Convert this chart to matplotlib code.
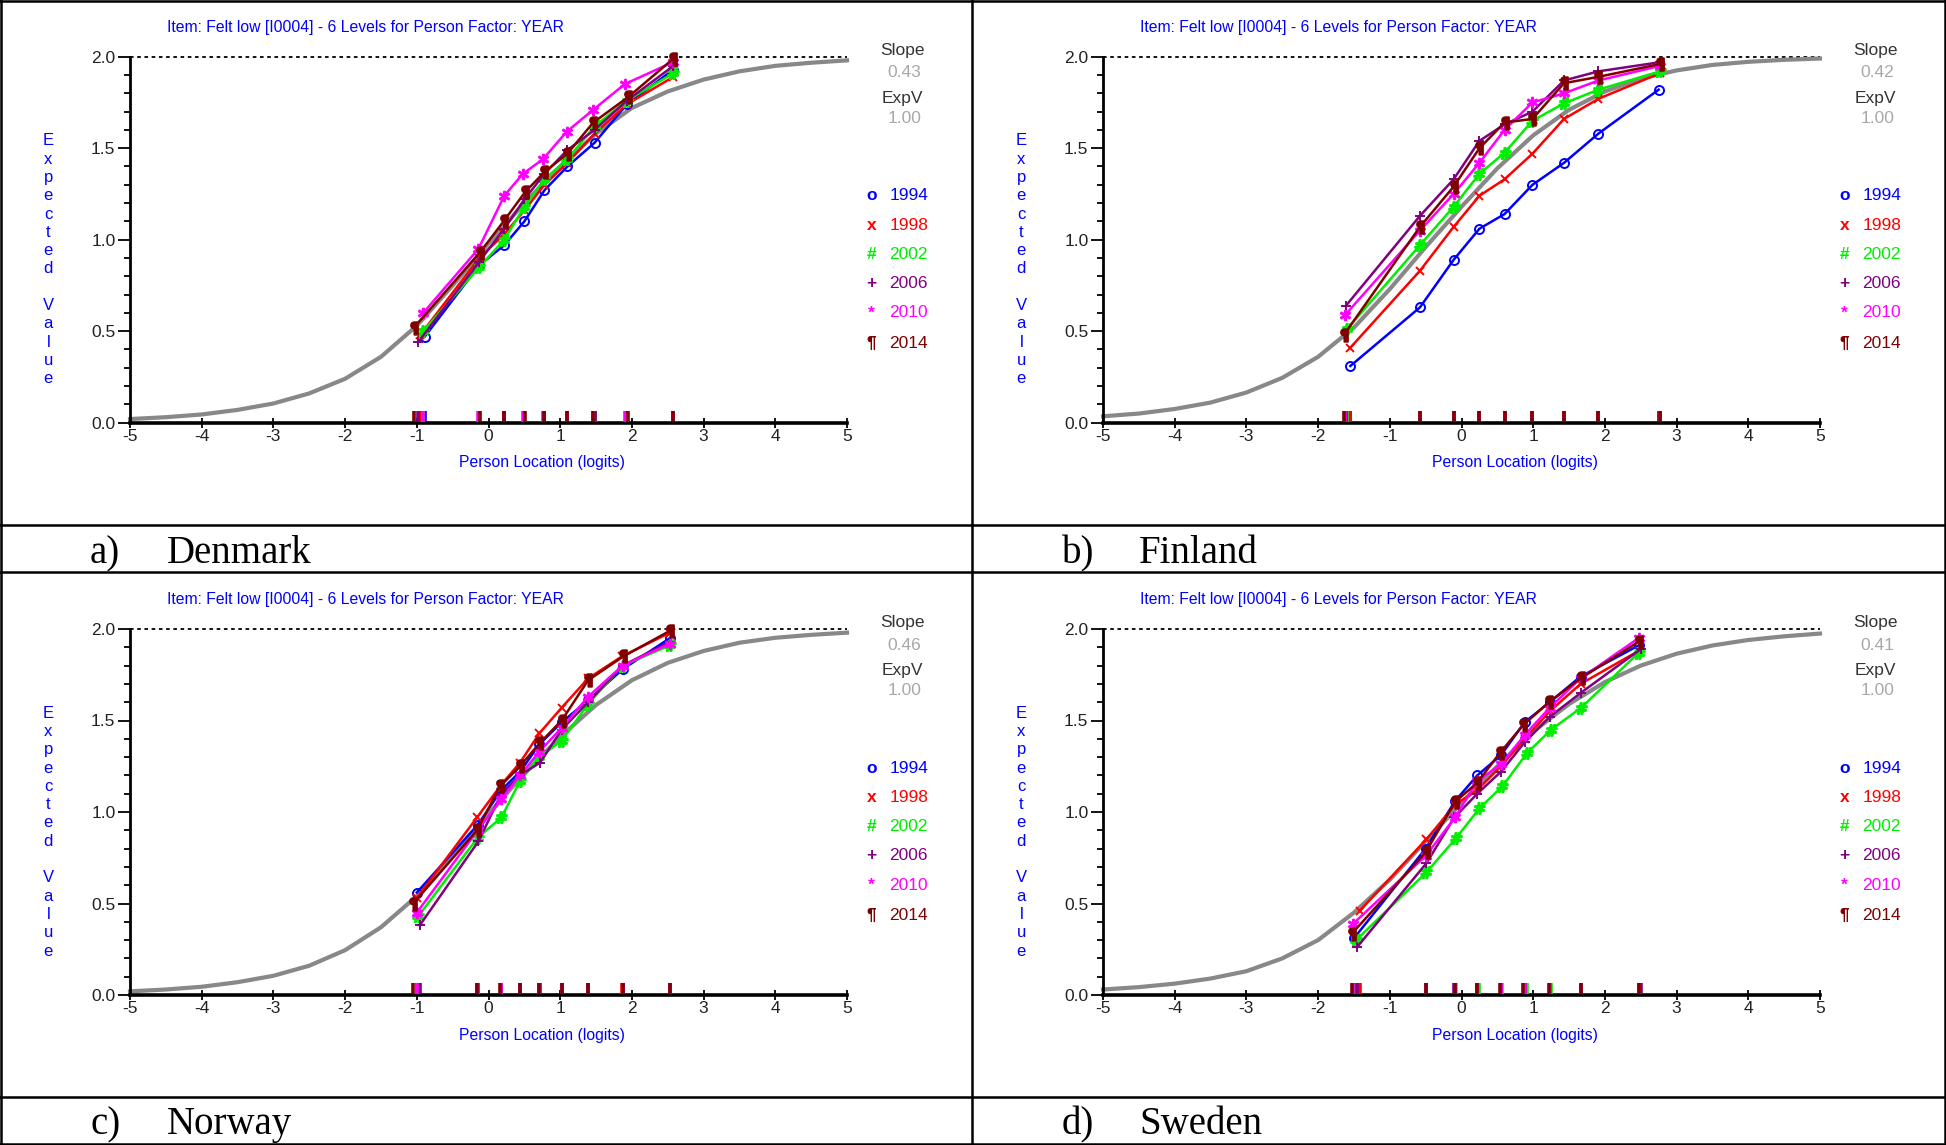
import matplotlib
matplotlib.use('Agg')
import matplotlib.pyplot as plt
from matplotlib.lines import Line2D
from matplotlib.ticker import MultipleLocator, FormatStrFormatter

NARROW = ['Liberation Sans Narrow', 'Liberation Sans', 'DejaVu Sans']
SERIF = ['Liberation Serif', 'DejaVu Serif']
plt.rcParams['font.family'] = NARROW
plt.rcParams['axes.unicode_minus'] = False

W, H = 1946, 1145

years = [1994, 1998, 2002, 2006, 2010, 2014]
year_colors = ['#0000ff', '#ff0000', '#00ee00', '#800080', '#ff00ff', '#800000']
legend_glyphs = ['o', 'x', '#', '+', '*', '¶']
markers = ['o', 'x', '$\\#$', '+', '$*$', '$¶$']
marker_sizes = [6.5, 5.5, 8, 7, 7, 9]

# expected-value curve, every half logit
curve_x = [-5.0, -4.5, -4.0, -3.5, -3.0, -2.5, -2.0, -1.5, -1.0, -0.5, 0.0,
           0.5, 1.0, 1.5, 2.0, 2.5, 3.0, 3.5, 4.0, 4.5, 5.0]

# Denmark
dk_x = {
    1994: [-0.89, -0.13, 0.22, 0.50, 0.78, 1.10, 1.48, 1.93, 2.58],
    1998: [-0.95, -0.13, 0.22, 0.50, 0.78, 1.10, 1.48, 1.93, 2.58],
    2002: [-0.91, -0.13, 0.22, 0.50, 0.78, 1.10, 1.48, 1.93, 2.58],
    2006: [-0.98, -0.13, 0.22, 0.50, 0.78, 1.10, 1.48, 1.93, 2.58],
    2010: [-0.91, -0.14, 0.22, 0.48, 0.76, 1.09, 1.46, 1.90, 2.57],
    2014: [-1.04, -0.12, 0.21, 0.51, 0.78, 1.10, 1.46, 1.95, 2.58],
}
dk_y = {
    1994: [0.47, 0.86, 0.97, 1.10, 1.27, 1.40, 1.53, 1.74, 1.93],
    1998: [0.48, 0.90, 1.03, 1.16, 1.30, 1.42, 1.58, 1.74, 1.89],
    2002: [0.50, 0.85, 1.00, 1.18, 1.33, 1.44, 1.62, 1.76, 1.91],
    2006: [0.44, 0.88, 1.06, 1.22, 1.36, 1.49, 1.60, 1.76, 1.95],
    2010: [0.60, 0.95, 1.24, 1.36, 1.44, 1.59, 1.71, 1.85, 1.97],
    2014: [0.52, 0.93, 1.10, 1.26, 1.37, 1.47, 1.64, 1.78, 1.99],
}
dk_curve = [0.02, 0.03, 0.045, 0.07, 0.105, 0.16, 0.24, 0.36, 0.53, 0.75, 0.98,
            1.20, 1.40, 1.58, 1.72, 1.81, 1.875, 1.92, 1.95, 1.967, 1.98]

# Finland
fi_x = {
    1994: [-1.55, -0.58, -0.11, 0.25, 0.60, 0.99, 1.43, 1.91, 2.75],
    1998: [-1.55, -0.58, -0.11, 0.25, 0.60, 0.99, 1.43, 1.91, 2.77],
    2002: [-1.60, -0.58, -0.11, 0.25, 0.60, 0.99, 1.43, 1.91, 2.77],
    2006: [-1.61, -0.58, -0.11, 0.25, 0.60, 0.99, 1.43, 1.91, 2.77],
    2010: [-1.62, -0.58, -0.11, 0.25, 0.60, 0.99, 1.43, 1.91, 2.77],
    2014: [-1.64, -0.58, -0.11, 0.25, 0.60, 0.99, 1.43, 1.91, 2.77],
}
fi_y = {
    1994: [0.31, 0.63, 0.89, 1.06, 1.14, 1.30, 1.42, 1.58, 1.82],
    1998: [0.41, 0.83, 1.07, 1.24, 1.33, 1.47, 1.66, 1.77, 1.91],
    2002: [0.51, 0.97, 1.18, 1.36, 1.475, 1.65, 1.745, 1.82, 1.92],
    2006: [0.64, 1.13, 1.33, 1.54, 1.63, 1.70, 1.87, 1.92, 1.97],
    2010: [0.59, 1.05, 1.25, 1.42, 1.60, 1.75, 1.80, 1.87, 1.95],
    2014: [0.48, 1.07, 1.29, 1.50, 1.64, 1.66, 1.855, 1.89, 1.96],
}
fi_curve = [0.035, 0.05, 0.075, 0.11, 0.165, 0.245, 0.36, 0.52, 0.73, 0.96, 1.18,
            1.39, 1.57, 1.71, 1.81, 1.88, 1.925, 1.955, 1.972, 1.983, 1.99]

# Norway
no_x = {
    1994: [-1.00, -0.15, 0.18, 0.44, 0.71, 1.02, 1.39, 1.87, 2.53],
    1998: [-1.00, -0.16, 0.18, 0.44, 0.71, 1.02, 1.39, 1.86, 2.53],
    2002: [-0.98, -0.15, 0.18, 0.44, 0.71, 1.02, 1.39, 1.87, 2.53],
    2006: [-0.96, -0.14, 0.18, 0.44, 0.72, 1.02, 1.39, 1.87, 2.53],
    2010: [-1.00, -0.15, 0.18, 0.44, 0.71, 1.02, 1.39, 1.87, 2.53],
    2014: [-1.05, -0.16, 0.16, 0.44, 0.71, 1.02, 1.39, 1.88, 2.53],
}
no_y = {
    1994: [0.56, 0.93, 1.12, 1.22, 1.37, 1.49, 1.61, 1.78, 1.95],
    1998: [0.53, 0.97, 1.15, 1.27, 1.43, 1.57, 1.73, 1.85, 1.98],
    2002: [0.43, 0.86, 0.97, 1.17, 1.30, 1.39, 1.59, 1.80, 1.91],
    2006: [0.38, 0.84, 1.10, 1.20, 1.27, 1.45, 1.60, 1.80, 1.93],
    2010: [0.45, 0.90, 1.07, 1.20, 1.33, 1.46, 1.63, 1.80, 1.92],
    2014: [0.50, 0.90, 1.14, 1.25, 1.375, 1.50, 1.72, 1.85, 1.99],
}
no_curve = [0.02, 0.03, 0.045, 0.07, 0.105, 0.16, 0.245, 0.37, 0.54, 0.76, 0.99,
            1.21, 1.41, 1.585, 1.72, 1.815, 1.88, 1.925, 1.952, 1.968, 1.98]

# Sweden
se_x = {
    1994: [-1.50, -0.50, -0.09, 0.22, 0.55, 0.88, 1.23, 1.66, 2.47],
    1998: [-1.42, -0.49, -0.09, 0.22, 0.55, 0.88, 1.23, 1.66, 2.47],
    2002: [-1.47, -0.49, -0.07, 0.25, 0.57, 0.91, 1.25, 1.67, 2.47],
    2006: [-1.46, -0.49, -0.10, 0.22, 0.55, 0.88, 1.23, 1.66, 2.50],
    2010: [-1.51, -0.50, -0.09, 0.22, 0.55, 0.88, 1.23, 1.66, 2.47],
    2014: [-1.53, -0.50, -0.09, 0.22, 0.53, 0.86, 1.22, 1.66, 2.47],
}
se_y = {
    1994: [0.31, 0.80, 1.06, 1.20, 1.31, 1.49, 1.60, 1.74, 1.91],
    1998: [0.46, 0.85, 1.04, 1.12, 1.25, 1.40, 1.55, 1.70, 1.88],
    2002: [0.30, 0.67, 0.86, 1.02, 1.14, 1.32, 1.45, 1.57, 1.87],
    2006: [0.26, 0.72, 0.97, 1.10, 1.22, 1.38, 1.52, 1.65, 1.89],
    2010: [0.39, 0.76, 0.97, 1.17, 1.26, 1.42, 1.57, 1.73, 1.95],
    2014: [0.335, 0.78, 1.055, 1.16, 1.32, 1.475, 1.60, 1.73, 1.93],
}
se_curve = [0.03, 0.043, 0.062, 0.09, 0.13, 0.20, 0.30, 0.45, 0.63, 0.84, 1.05,
            1.25, 1.44, 1.59, 1.71, 1.80, 1.865, 1.91, 1.94, 1.96, 1.975]

panel_letters = ['a)', 'b)', 'c)', 'd)']
countries = ['Denmark', 'Finland', 'Norway', 'Sweden']
slopes = ['0.43', '0.42', '0.46', '0.41']
exp_v = ['1.00', '1.00', '1.00', '1.00']
item_title = 'Item: Felt low [I0004] - 6 Levels for Person Factor: YEAR'
legend_y = [1.24, 1.08, 0.92, 0.76, 0.60, 0.435]


def draw_panel(ax, xs, ys, curve, slope, expv):
    ax.set_xlim(-5, 5)
    ax.set_ylim(0, 2)
    for side in ['top', 'right']:
        ax.spines[side].set_visible(False)
    ax.spines['left'].set_linewidth(2.0)
    ax.spines['bottom'].set_linewidth(2.6)

    ax.set_xticks(range(-5, 6))
    ax.set_yticks([0, 0.5, 1.0, 1.5, 2.0])
    ax.yaxis.set_major_formatter(FormatStrFormatter('%.1f'))
    ax.yaxis.set_minor_locator(MultipleLocator(0.1))
    ax.tick_params(axis='x', direction='inout', length=7, width=1.3, pad=1,
                   labelsize=12.5, labelcolor='#222222')
    ax.tick_params(axis='y', which='major', direction='out', length=8.5,
                   width=1.3, pad=2, labelsize=12.5, labelcolor='#222222')
    ax.tick_params(axis='y', which='minor', direction='out', length=4.5, width=1.3)

    ax.axhline(2.0, color='black', lw=1.3, ls=(0, (2, 2)), clip_on=False)
    ax.plot(curve_x, curve, color='#888888', lw=3, zorder=2, clip_on=False)

    for i, yr in enumerate(years):
        ax.vlines(xs[yr], 0.005, 0.065, color=year_colors[i], lw=2.6,
                  zorder=3, clip_on=False)
    for i, yr in enumerate(years):
        mfc = 'none' if markers[i] == 'o' else year_colors[i]
        ax.plot(xs[yr], ys[yr], color=year_colors[i], lw=1.8,
                marker=markers[i], ms=marker_sizes[i], mfc=mfc,
                mec=year_colors[i], mew=1.4, zorder=4 + i, clip_on=False)

    ax.text(-4.48, 2.16, item_title, color='#0000ff', fontsize=11.3,
            ha='left', va='center')
    ax.text(0.75, -0.22, 'Person Location (logits)', color='#0000ff',
            fontsize=11.3, ha='center', va='center')
    for k, ch in enumerate('Expected Value'):
        ax.text(-6.14, 1.54 - 0.1 * k, ch, color='#0000ff', fontsize=12,
                ha='center', va='center')

    ax.text(5.77, 2.033, 'Slope', color='#333333', fontsize=12.5,
            ha='center', va='center', clip_on=False)
    ax.text(5.8, 1.912, slope, color='#a8a8a8', fontsize=12.5,
            ha='center', va='center')
    ax.text(5.77, 1.772, 'ExpV', color='#333333', fontsize=12.5,
            ha='center', va='center')
    ax.text(5.8, 1.663, expv, color='#a8a8a8', fontsize=12.5,
            ha='center', va='center')

    for i, yr in enumerate(years):
        ax.text(5.34, legend_y[i], legend_glyphs[i], color=year_colors[i],
                fontsize=12.5, fontweight='bold', ha='center', va='center')
        ax.text(5.59, legend_y[i], str(yr), color=year_colors[i],
                fontsize=12.5, ha='left', va='center')


fig = plt.figure(figsize=(W / 100, H / 100), dpi=100)

panel_data = [(dk_x, dk_y, dk_curve), (fi_x, fi_y, fi_curve),
              (no_x, no_y, no_curve), (se_x, se_y, se_curve)]
axes_left = [130, 1103, 130, 1103]
axes_top = [56.7, 56.7, 629, 629]
label_left = [0, 972, 0, 972]
label_base = [563, 563, 1134, 1134]

for p in range(4):
    ax = fig.add_axes([axes_left[p] / W, 1 - (axes_top[p] + 366) / H,
                       717 / W, 366 / H])
    xs, ys, curve = panel_data[p]
    draw_panel(ax, xs, ys, curve, slopes[p], exp_v[p])
    fig.text((label_left[p] + 90) / W, 1 - label_base[p] / H, panel_letters[p],
             family=SERIF, fontsize=28, ha='left', va='baseline')
    fig.text((label_left[p] + 167) / W, 1 - label_base[p] / H, countries[p],
             family=SERIF, fontsize=28, ha='left', va='baseline')

# panel frames
frame_kw = dict(color='black', lw=1.8, transform=fig.transFigure)
for ypx in [1, 525, 572, 1097, 1144]:
    fig.add_artist(Line2D([0, 1], [1 - ypx / H, 1 - ypx / H], **frame_kw))
for xpx in [1, 972, 1945]:
    fig.add_artist(Line2D([xpx / W, xpx / W], [0, 1], **frame_kw))

fig.savefig('out.png', dpi=100)
